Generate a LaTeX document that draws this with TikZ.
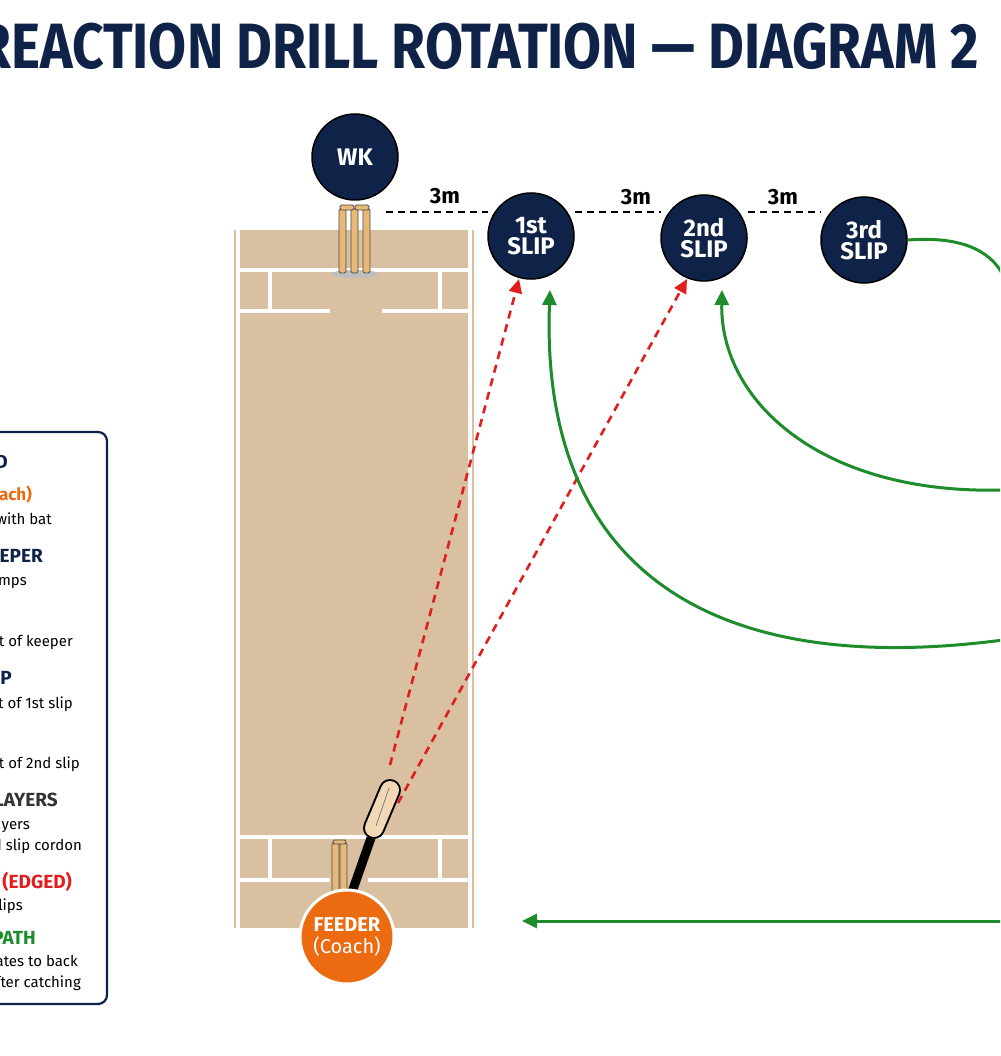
\documentclass[tikz,border=0pt]{standalone}
\usepackage{fontspec}
\setmainfont{Fira Sans}
\usetikzlibrary{arrows.meta}
\definecolor{navy}{HTML}{0F2248}
\definecolor{pitch}{HTML}{D8C0A0}
\definecolor{feed}{HTML}{EC6A10}
\definecolor{gr}{HTML}{1E8C2A}
\definecolor{rd}{HTML}{E01E1E}
\definecolor{wood}{HTML}{E8B878}
\tikzset{
 player/.style={circle,draw=black,line width=1.5pt,fill=navy,text=white,minimum size=86pt,inner sep=0pt,font=\fontsize{24}{22}\selectfont\bfseries,align=center},
 dist/.style={line width=2pt,dash pattern=on 7pt off 5pt},
 lab/.style={font=\fontsize{22}{22}\selectfont\bfseries},
 edge/.style={rd,line width=2.6pt,dash pattern=on 8pt off 6pt,-{Triangle[length=14pt,width=13pt]}},
 rot/.style={gr,line width=3pt,-{Triangle[length=15pt,width=14pt]}},
 crease/.style={white,line width=4pt},
 lt/.style={anchor=base east,font=\fontsize{15}{17}\selectfont,text=black,inner sep=0pt},
 lh/.style={anchor=base east,font=\fontsize{19}{19}\selectfont\bfseries,text=navy,inner sep=0pt},
 stump/.style={draw=black!70,fill=wood,line width=0.8pt,rounded corners=1.5pt}
}
\begin{document}
\begin{tikzpicture}[x=1pt,y=-1pt]
\useasboundingbox (0,0) rectangle (1000,1056);
\fill[white] (0,0) rectangle (1000,1056);
\clip (0,0) rectangle (1000,1056);
\node[font=\fontsize{64}{64}\selectfont\bfseries,text=navy,xscale=0.86] (title) at (478,46) {REACTION DRILL ROTATION — DIAGRAM 2};
% pitch
\fill[pitch] (234,230) rectangle (474,928);
\draw[crease] (238,230) -- (238,928);
\draw[crease] (470,230) -- (470,928);
\draw[crease] (238,270) -- (470,270);
\draw[crease] (270,270) -- (270,310) (440,270) -- (440,310);
\draw[crease] (238,311) -- (330,311) (382,311) -- (470,311);
\draw[crease] (238,837) -- (470,837);
\draw[crease] (270,837) -- (270,880) (440,837) -- (440,880);
\draw[crease] (238,880) -- (330,880) (368,880) -- (470,880);
% top stumps
\fill[black!25] (355,274) ellipse (24pt and 4pt);
\foreach \x in {339,351,363}{\draw[stump] (\x,209) rectangle ++(7,64);}
\draw[stump] (340,205) rectangle ++(14,5);
\draw[stump] (355,205) rectangle ++(14,5);
% bottom stumps
\foreach \x in {332,340}{\draw[stump] (\x,843) rectangle ++(7,50);}
\draw[stump] (333,840) rectangle ++(13,4);
% bat
\draw[black,line width=9pt] (352,892) -- (371,838);
\draw[black,line width=22pt,line cap=round] (374,828) -- (390,790);
\draw[wood!55!white,line width=18pt,line cap=round] (374,828) -- (390,790);
\draw[black!55,line width=0.7pt] (389,788) -- (376,826);
% players
\node[player] (wk) at (355,157) {WK};
\node[player] (s1) at (531,236) {1st\\[-1pt]SLIP};
\node[player] (s2) at (704,238) {2nd\\[-1pt]SLIP};
\node[player] (s3) at (864,240) {3rd\\[-1pt]SLIP};
\node[player,fill=feed,draw=white,line width=3pt,minimum size=94pt,font=\fontsize{20}{20}\selectfont\bfseries] (feeder) at (347,937) {FEEDER\\[2pt]\mdseries(Coach)};
% distances
\draw[dist] (386,212) -- (488,212);
\node[lab] (d1) at (445,196) {3m};
\draw[dist] (575,212) -- (661,212);
\node[lab] (d2) at (636,197) {3m};
\draw[dist] (748,212) -- (821,212);
\node[lab] (d3) at (783,197) {3m};
% edges
\coordinate (b1) at (390,765);
\coordinate (b2) at (398,803);
\draw[edge] (b1) -- (519,279);
\draw[edge] (b2) -- (687,279);
% rotation
\coordinate (r0) at (1003,275);
\coordinate (r1) at (1003,490);
\coordinate (r2) at (1003,640);
\coordinate (r3) at (1003,921);
\draw[rot,-] (s3.east) .. controls (960,236) and (990,250) .. (r0);
\draw[rot] (r1) .. controls (820,495) and (720,400) .. (722,290);
\draw[rot] (r2) .. controls (700,680) and (540,560) .. (550,290);
\draw[rot] (r3) -- (522,921);
% legend
\draw[navy,line width=2.2pt,fill=white,rounded corners=9pt] (-20,432) rectangle (107,1004);
\node[lh] at (8,468) {D};
\node[lh,text=feed,font=\fontsize{17}{17}\selectfont\bfseries] at (32,500) {ach)};
\node[lt] at (52,524) {with bat};
\node[lh] at (43,562) {EPER};
\node[lt] at (27,585) {mps};
\node[lt] at (73,646) {nt of keeper};
\node[lh] at (12,684) {P};
\node[lt] at (73,708) {nt of 1st slip};
\node[lt] at (80,768) {nt of 2nd slip};
\node[lh,text=black!80] at (58,806) {LAYERS};
\node[lt] at (30,829) {yers};
\node[lt] at (82,850) {d slip cordon};
\node[lh,text=rd] at (72,888) {(EDGED)};
\node[lt] at (23,910) {lips};
\node[lh,text=gr] at (36,944) {PATH};
\node[lt] at (78,966) {ates to back};
\node[lt] at (81,987) {fter catching};
\end{tikzpicture}
\end{document}
